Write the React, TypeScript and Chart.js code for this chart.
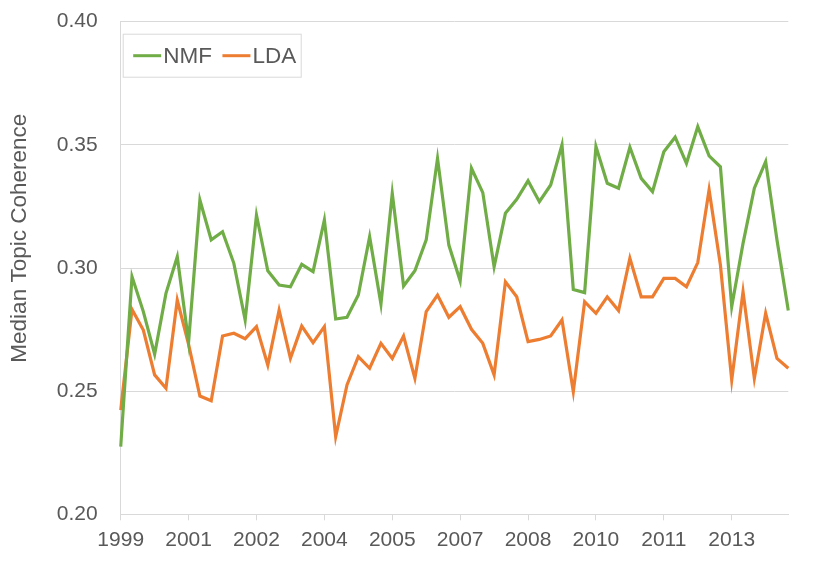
import React, { useEffect, useRef } from "react";
import { Chart, registerables } from "chart.js";

Chart.register(...registerables);

const quarters: string[] = [
  "1999 Q4",
  "2000 Q1", "2000 Q2", "2000 Q3", "2000 Q4",
  "2001 Q1", "2001 Q2", "2001 Q3", "2001 Q4",
  "2002 Q1", "2002 Q2", "2002 Q3", "2002 Q4",
  "2003 Q1", "2003 Q2", "2003 Q3", "2003 Q4",
  "2004 Q1", "2004 Q2", "2004 Q3", "2004 Q4",
  "2005 Q1", "2005 Q2", "2005 Q3", "2005 Q4",
  "2006 Q1", "2006 Q2", "2006 Q3", "2006 Q4",
  "2007 Q1", "2007 Q2", "2007 Q3", "2007 Q4",
  "2008 Q1", "2008 Q2", "2008 Q3", "2008 Q4",
  "2009 Q1", "2009 Q2", "2009 Q3", "2009 Q4",
  "2010 Q1", "2010 Q2", "2010 Q3", "2010 Q4",
  "2011 Q1", "2011 Q2", "2011 Q3", "2011 Q4",
  "2012 Q1", "2012 Q2", "2012 Q3", "2012 Q4",
  "2013 Q1", "2013 Q2", "2013 Q3", "2013 Q4",
  "2014 Q1", "2014 Q2", "2014 Q3",
];

const nmfValues: number[] = [
  0.2275, 0.2965, 0.2823, 0.265, 0.2897, 0.3046, 0.270, 0.3276, 0.3114, 0.3147,
  0.3019, 0.2789, 0.3215, 0.2989, 0.2931, 0.2924, 0.3015, 0.2985, 0.3195, 0.2793,
  0.280, 0.289, 0.3127, 0.2854, 0.3303, 0.2927, 0.2989, 0.3114, 0.3445, 0.3093,
  0.2948, 0.3405, 0.3306, 0.3005, 0.3222, 0.3279, 0.3354, 0.3269, 0.3337, 0.350,
  0.2913, 0.290, 0.3493, 0.3344, 0.3324, 0.349, 0.3364, 0.331, 0.3472, 0.3531,
  0.3425, 0.3574, 0.3455, 0.3411, 0.2843, 0.310, 0.3324, 0.3432, 0.3114, 0.2827,
];

const ldaValues: number[] = [
  0.2423, 0.2832, 0.2748, 0.2566, 0.2512, 0.287, 0.269, 0.248, 0.2461, 0.2724,
  0.2735, 0.2713, 0.2762, 0.2606, 0.2829, 0.2633, 0.2764, 0.2697, 0.2762, 0.2315,
  0.2525, 0.264, 0.2593, 0.2694, 0.2633, 0.2724, 0.2552, 0.2823, 0.289, 0.280,
  0.2843, 0.2751, 0.2694, 0.2566, 0.2944, 0.2883, 0.2701, 0.2710, 0.2724, 0.2789,
  0.2498, 0.2863, 0.2816, 0.2883, 0.2827, 0.304, 0.2883, 0.2883, 0.2958, 0.2958,
  0.2924, 0.3022, 0.3317, 0.3012, 0.2545, 0.2904, 0.2552, 0.2816, 0.2633, 0.2593,
];

const xTickLabels: string[] = ["1999", "2001", "2002", "2004", "2005", "2007", "2008", "2010", "2011", "2013"];
const yTicks: number[] = [0.2, 0.25, 0.3, 0.35, 0.4];
const yTitle = "Median Topic Coherence";

const FONT = '"Liberation Sans", Arial, Helvetica, sans-serif';
const TEXT = "#595959";
const GRID = "#d9d9d9";
const TICK_EVERY = 6;

const insideLegend = {
  id: "insideLegend",
  afterDatasetsDraw(chart: any) {
    const { ctx, chartArea } = chart;
    ctx.save();
    ctx.font = `22.5px ${FONT}`;
    const items = chart.data.datasets.map((ds: any) => ({
      text: ds.label as string,
      color: ds.borderColor as string,
      w: ctx.measureText(ds.label).width,
    }));
    const lineW = 28, padL = 10, gapLT = 2, gapItem = 10.5, padR = 5;
    let total = padL + padR;
    items.forEach((it: any, i: number) => {
      total += lineW + gapLT + it.w + (i > 0 ? gapItem : 0);
    });
    const bx = chartArea.left + 2.5;
    const by = chartArea.top + 12.5;
    const bh = 43;
    ctx.fillStyle = "#ffffff";
    ctx.fillRect(bx, by, total, bh);
    ctx.strokeStyle = GRID;
    ctx.lineWidth = 1;
    ctx.strokeRect(bx, by, total, bh);
    let x = bx + padL;
    const cy = by + bh / 2;
    ctx.textBaseline = "middle";
    ctx.textAlign = "left";
    items.forEach((it: any, i: number) => {
      if (i > 0) x += gapItem;
      ctx.strokeStyle = it.color;
      ctx.lineWidth = 3;
      ctx.beginPath();
      ctx.moveTo(x, cy);
      ctx.lineTo(x + lineW, cy);
      ctx.stroke();
      x += lineW + gapLT;
      ctx.fillStyle = TEXT;
      ctx.fillText(it.text, x, cy + 1);
      x += it.w;
    });
    ctx.restore();
  },
};

const yTitlePlugin = {
  id: "yTitlePlugin",
  afterDraw(chart: any) {
    const { ctx, chartArea } = chart;
    ctx.save();
    ctx.font = `22.5px ${FONT}`;
    ctx.fillStyle = TEXT;
    ctx.textAlign = "center";
    ctx.textBaseline = "middle";
    ctx.translate(19.5, chartArea.top + 216.5);
    ctx.rotate(-Math.PI / 2);
    ctx.fillText(yTitle, 0, 0);
    ctx.restore();
  },
};

export default function App() {
  const canvasRef = useRef<HTMLCanvasElement | null>(null);

  useEffect(() => {
    if (!canvasRef.current) return;
    const chart = new Chart(canvasRef.current, {
      type: "line",
      data: {
        labels: quarters,
        datasets: [
          {
            label: "NMF",
            data: nmfValues,
            borderColor: "#70AD47",
            backgroundColor: "#70AD47",
            borderWidth: 3.2,
            pointRadius: 0,
            tension: 0,
            fill: false,
          },
          {
            label: "LDA",
            data: ldaValues,
            borderColor: "#ED7D31",
            backgroundColor: "#ED7D31",
            borderWidth: 3.2,
            pointRadius: 0,
            tension: 0,
            fill: false,
          },
        ],
      },
      options: {
        responsive: false,
        animation: false,
        layout: { padding: { left: 0, right: 41.7, top: 21.7, bottom: 0 } },
        plugins: {
          legend: { display: false },
          tooltip: { enabled: false },
        },
        scales: {
          x: {
            type: "category",
            offset: false,
            afterBuildTicks: (axis: any) => {
              axis.ticks = axis.ticks.filter((t: any) => t.value % TICK_EVERY === 0);
            },
            afterFit: (axis: any) => {
              axis.height = 47.7;
              axis.paddingLeft = 0;
              axis.paddingRight = 0;
            },
            grid: {
              display: true,
              drawOnChartArea: false,
              drawTicks: true,
              tickLength: 6,
              color: GRID,
            },
            border: { display: true, color: GRID, width: 1 },
            ticks: {
              autoSkip: false,
              maxRotation: 0,
              minRotation: 0,
              padding: 7,
              color: TEXT,
              font: { family: FONT, size: 21 },
              callback: (_v: any, index: number) => xTickLabels[index] ?? "",
            },
          },
          y: {
            min: yTicks[0],
            max: yTicks[yTicks.length - 1],
            afterBuildTicks: (axis: any) => {
              axis.ticks = yTicks.map((v) => ({ value: v }));
            },
            afterFit: (axis: any) => {
              axis.width = 120.7;
              axis.paddingTop = 0;
              axis.paddingBottom = 0;
            },
            grid: { color: GRID, drawTicks: false, lineWidth: 1 },
            border: { display: true, color: GRID, width: 1 },
            ticks: {
              padding: 23,
              color: TEXT,
              font: { family: FONT, size: 21 },
              callback: (v: any) => Number(v).toFixed(2),
            },
            title: { display: false },
          },
        },
      },
      plugins: [insideLegend, yTitlePlugin],
    });
    return () => chart.destroy();
  }, []);

  return (
    <div style={{ position: "absolute", left: 0, top: 0, width: 830, height: 562, background: "#fff" }}>
      <canvas ref={canvasRef} width={830} height={562} style={{ display: "block" }} />
    </div>
  );
}
